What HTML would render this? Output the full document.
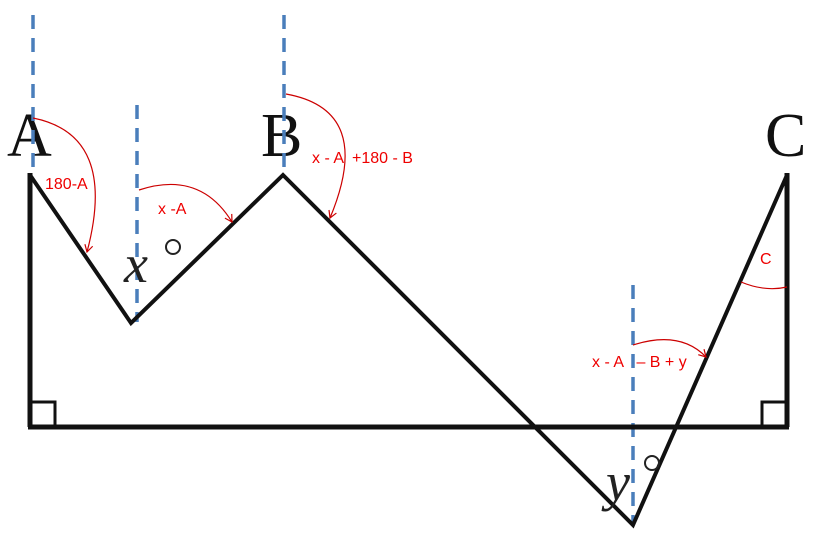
<!DOCTYPE html>
<html><head><style>
html,body{margin:0;padding:0;background:#fff;}
svg{display:block;}
.big{font-family:"Liberation Serif",serif;font-size:62px;fill:#111;}
.it{font-family:"Liberation Serif",serif;font-style:italic;font-size:54px;fill:#222;}
.r{font-family:"Liberation Sans",sans-serif;font-size:16px;fill:#e00;}
</style></head><body>
<svg width="830" height="544" viewBox="0 0 830 544" xmlns="http://www.w3.org/2000/svg">
<defs>
<marker id="ar" markerWidth="10" markerHeight="10" refX="8" refY="5" orient="auto" markerUnits="userSpaceOnUse">
<path d="M1,1 L8,5 L1,9" fill="none" stroke="#c00" stroke-width="1.2"/>
</marker>
</defs>
<text class="big" x="7" y="156">A</text>
<text class="big" x="261" y="156">B</text>
<text class="big" x="765" y="156">C</text>
<g stroke="#4a7ebb" stroke-width="3.5" stroke-dasharray="14,9" fill="none">
<line x1="33" y1="15" x2="33" y2="175"/>
<line x1="137" y1="105" x2="137" y2="322"/>
<line x1="284" y1="15" x2="284" y2="175"/>
<line x1="633" y1="285" x2="633" y2="525"/>
</g>
<g stroke="#111" fill="none" stroke-linejoin="miter">
<line x1="30" y1="173" x2="30" y2="427" stroke-width="5"/>
<line x1="787" y1="173" x2="787" y2="427" stroke-width="5"/>
<line x1="28" y1="427" x2="789" y2="427" stroke-width="5"/>
<polyline points="30,175 131,323 283,175 633,525 787,175" stroke-width="4"/>
<polyline points="30,402 55,402 55,427" stroke-width="3"/>
<polyline points="762,427 762,402 787,402" stroke-width="3"/>
</g>
<text class="it" x="124" y="282">x</text>
<circle cx="173" cy="247" r="7" fill="none" stroke="#222" stroke-width="2"/>
<text class="it" x="606" y="500">y</text>
<circle cx="652" cy="463" r="7" fill="none" stroke="#222" stroke-width="2"/>
<g stroke="#c00" stroke-width="1.2" fill="none">
<path d="M33,118 Q118,135 87,252" marker-end="url(#ar)"/>
<path d="M139,190 Q200,170 232,222" marker-end="url(#ar)"/>
<path d="M286,94 Q375,110 330,218" marker-end="url(#ar)"/>
<path d="M633,345 Q680,330 706,357" marker-end="url(#ar)"/>
<path d="M741,282 Q765,292 787,287"/>
</g>
<text class="r" x="45" y="189">180-A</text>
<text class="r" x="158" y="214">x -A</text>
<text class="r" x="312" y="163" xml:space="preserve">x - A  +180 - B</text>
<text class="r" x="592" y="367" xml:space="preserve">x - A   – B + y</text>
<text class="r" x="760" y="264">C</text>
</svg>
</body></html>
